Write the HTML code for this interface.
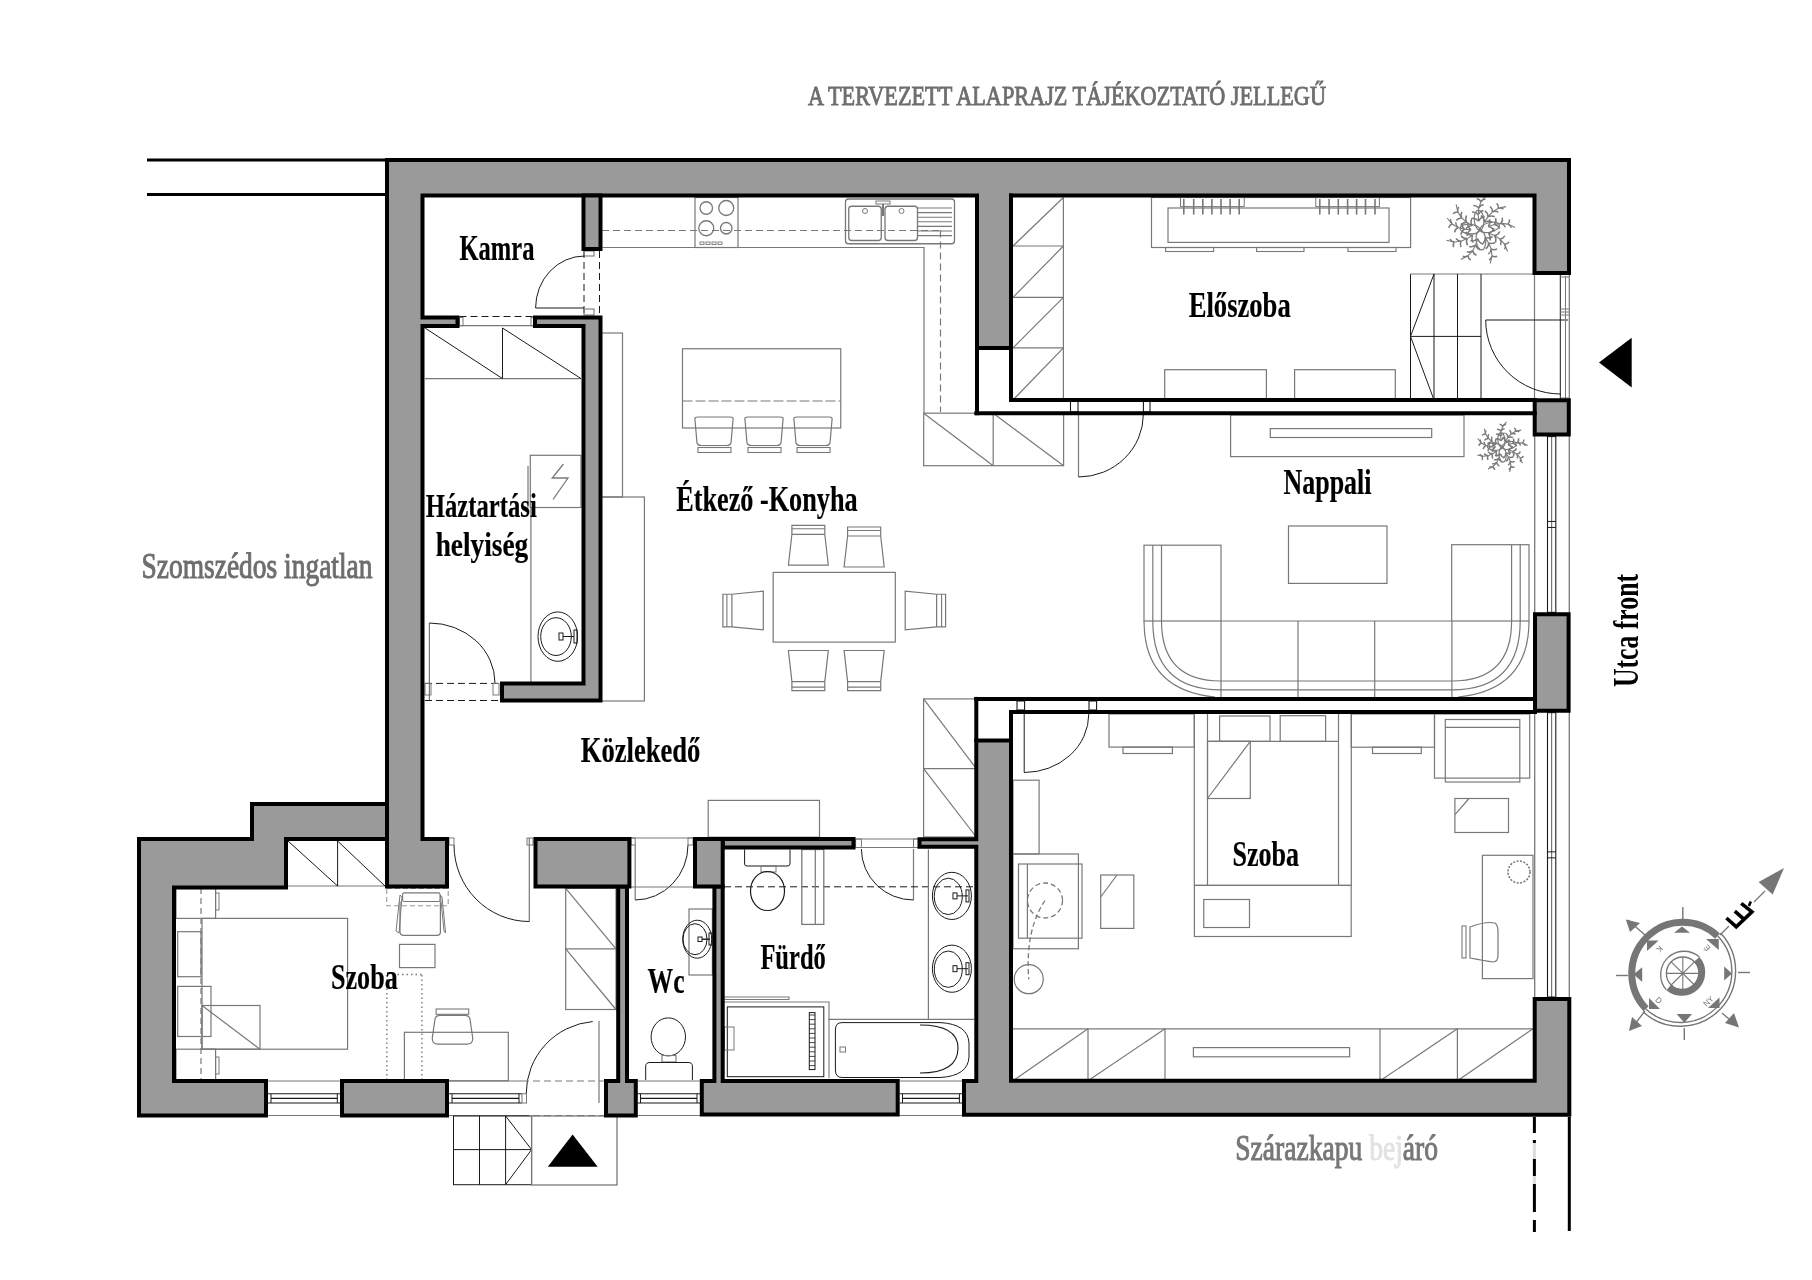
<!DOCTYPE html>
<html><head><meta charset="utf-8"><style>
html,body{margin:0;padding:0;background:#fff;width:1812px;height:1280px;overflow:hidden}
svg{display:block;will-change:transform}
</style></head><body>
<svg width="1812" height="1280" viewBox="0 0 1812 1280"><line x1="584" y1="251" x2="584" y2="315" stroke="#1a1a1a" stroke-width="1.0" stroke-dasharray="7,4"/>
<line x1="599.5" y1="251" x2="599.5" y2="315" stroke="#1a1a1a" stroke-width="1.0" stroke-dasharray="7,4"/>
<rect x="584" y="251" width="10" height="5" fill="none" stroke="#787878" stroke-width="1.1" />
<rect x="584" y="309" width="10" height="6" fill="none" stroke="#787878" stroke-width="1.1" />
<line x1="535.6" y1="308" x2="584" y2="308" stroke="#1a1a1a" stroke-width="1.1" />
<path d="M535.6,308 A49,52 0 0,1 584.5,256" fill="none" stroke="#1a1a1a" stroke-width="1.0" />
<line x1="459.5" y1="316.5" x2="535" y2="316.5" stroke="#1a1a1a" stroke-width="1.0" stroke-dasharray="7,4"/>
<line x1="459.5" y1="325.7" x2="535" y2="325.7" stroke="#787878" stroke-width="1.2" />
<rect x="459.5" y="317.5" width="3.5" height="8.199999999999989" fill="none" stroke="#787878" stroke-width="1" />
<rect x="531" y="317.5" width="4" height="8.199999999999989" fill="none" stroke="#787878" stroke-width="1" />
<line x1="425" y1="378.6" x2="581" y2="378.6" stroke="#787878" stroke-width="1.2" />
<line x1="502.5" y1="328" x2="502.5" y2="378.6" stroke="#1a1a1a" stroke-width="1.0" />
<line x1="425" y1="328" x2="502.5" y2="378.6" stroke="#1a1a1a" stroke-width="1.0" />
<line x1="502.5" y1="328" x2="581" y2="378.6" stroke="#1a1a1a" stroke-width="1.0" />
<rect x="530.3" y="455.3" width="50.700000000000045" height="52.19999999999999" fill="none" stroke="#787878" stroke-width="1.2" />
<line x1="528" y1="466" x2="528" y2="507.5" stroke="#787878" stroke-width="1.2" />
<line x1="530.9" y1="507.5" x2="530.9" y2="682" stroke="#787878" stroke-width="1.2" />
<path d="M563.4,464 L552.2,478 L568,478 L553,499.5" fill="none" stroke="#787878" stroke-width="1.3" />
<ellipse cx="557.8" cy="636.6" rx="19.8" ry="24.7" fill="none" stroke="#1a1a1a" stroke-width="1.0"/>
<ellipse cx="556" cy="636.6" rx="15.3" ry="18.9" fill="none" stroke="#1a1a1a" stroke-width="1.0"/>
<rect x="559" y="633" width="4" height="7" fill="none" stroke="#1a1a1a" stroke-width="1" />
<line x1="563" y1="636.5" x2="574" y2="636.5" stroke="#1a1a1a" stroke-width="1" />
<rect x="574" y="630" width="3" height="13" fill="none" stroke="#1a1a1a" stroke-width="1" />
<line x1="429.4" y1="623" x2="429.4" y2="700" stroke="#787878" stroke-width="1.2" />
<path d="M429.4,623 A65.6,60 0 0,1 495,683" fill="none" stroke="#1a1a1a" stroke-width="1.0" />
<line x1="425" y1="683.4" x2="502" y2="683.4" stroke="#1a1a1a" stroke-width="1.0" stroke-dasharray="7,4"/>
<line x1="425" y1="700.5" x2="502" y2="700.5" stroke="#1a1a1a" stroke-width="1.0" stroke-dasharray="7,4"/>
<rect x="425" y="683.4" width="6" height="11.600000000000023" fill="none" stroke="#787878" stroke-width="1" />
<rect x="493" y="683.4" width="6" height="11.600000000000023" fill="none" stroke="#787878" stroke-width="1" />
<path d="M602.5,247.5 H924 V413.2" fill="none" stroke="#787878" stroke-width="1.2" />
<line x1="602" y1="230.5" x2="940.5" y2="230.5" stroke="#787878" stroke-width="1.2" stroke-dasharray="7,4"/>
<line x1="940.5" y1="230.5" x2="940.5" y2="412" stroke="#787878" stroke-width="1.2" stroke-dasharray="7,4"/>
<rect x="695" y="197.5" width="43" height="50.0" fill="none" stroke="#787878" stroke-width="1.2" />
<circle cx="706.25" cy="208" r="6.25" fill="none" stroke="#787878" stroke-width="1.3" />
<circle cx="726.25" cy="208" r="7.5" fill="none" stroke="#787878" stroke-width="1.3" />
<circle cx="706.25" cy="228.25" r="7.5" fill="none" stroke="#787878" stroke-width="1.3" />
<circle cx="726.25" cy="228.25" r="5.75" fill="none" stroke="#787878" stroke-width="1.3" />
<rect x="700" y="242" width="4" height="2.5" fill="none" stroke="#787878" stroke-width="0.9" />
<rect x="706" y="242" width="4" height="2.5" fill="none" stroke="#787878" stroke-width="0.9" />
<rect x="712" y="242" width="4" height="2.5" fill="none" stroke="#787878" stroke-width="0.9" />
<rect x="718" y="242" width="4" height="2.5" fill="none" stroke="#787878" stroke-width="0.9" />
<rect x="845.5" y="199" width="109.0" height="44.75" fill="none" stroke="#787878" stroke-width="1.3" rx="3"/>
<rect x="848.75" y="206.25" width="32.5" height="34.25" fill="none" stroke="#787878" stroke-width="1.3" rx="3"/>
<rect x="885" y="206.25" width="32.5" height="34.25" fill="none" stroke="#787878" stroke-width="1.3" rx="3"/>
<line x1="918" y1="208.0" x2="952" y2="208.0" stroke="#787878" stroke-width="1.1" />
<line x1="918" y1="212.6" x2="952" y2="212.6" stroke="#787878" stroke-width="1.1" />
<line x1="918" y1="217.2" x2="952" y2="217.2" stroke="#787878" stroke-width="1.1" />
<line x1="918" y1="221.8" x2="952" y2="221.8" stroke="#787878" stroke-width="1.1" />
<line x1="918" y1="226.4" x2="952" y2="226.4" stroke="#787878" stroke-width="1.1" />
<line x1="918" y1="231.0" x2="952" y2="231.0" stroke="#787878" stroke-width="1.1" />
<line x1="918" y1="235.6" x2="952" y2="235.6" stroke="#787878" stroke-width="1.1" />
<rect x="876" y="201" width="14" height="3" fill="none" stroke="#787878" stroke-width="1" />
<line x1="883" y1="204" x2="883" y2="216" stroke="#787878" stroke-width="2" />
<circle cx="865" cy="211" r="2.5" fill="none" stroke="#787878" stroke-width="1" />
<circle cx="901.5" cy="211" r="2.5" fill="none" stroke="#787878" stroke-width="1" />
<rect x="682.5" y="348.75" width="158.25" height="79.25" fill="none" stroke="#787878" stroke-width="1.2" />
<line x1="682.5" y1="401" x2="840.75" y2="401" stroke="#787878" stroke-width="1.1" stroke-dasharray="10,3"/>
<path d="M695,420 Q694,417 698,417 H730 Q734,417 733,420 L731,443 Q730,445.5 727,445.5 H701 Q698,445.5 697,443 Z" fill="none" stroke="#787878" stroke-width="1.2" />
<rect x="698" y="447.5" width="33" height="5.0" fill="none" stroke="#787878" stroke-width="1.1" />
<path d="M745,420 Q744,417 748,417 H780 Q784,417 783,420 L781,443 Q780,445.5 777,445.5 H751 Q748,445.5 747,443 Z" fill="none" stroke="#787878" stroke-width="1.2" />
<rect x="748" y="447.5" width="33" height="5.0" fill="none" stroke="#787878" stroke-width="1.1" />
<path d="M794,420 Q793,417 797,417 H829 Q833,417 832,420 L830,443 Q829,445.5 826,445.5 H800 Q797,445.5 796,443 Z" fill="none" stroke="#787878" stroke-width="1.2" />
<rect x="797" y="447.5" width="33" height="5.0" fill="none" stroke="#787878" stroke-width="1.1" />
<rect x="601" y="333" width="21.5" height="164" fill="none" stroke="#787878" stroke-width="1.2" />
<rect x="601" y="497" width="43.39999999999998" height="204" fill="none" stroke="#787878" stroke-width="1.2" />
<rect x="923.7" y="413.2" width="139.89999999999986" height="52.5" fill="none" stroke="#787878" stroke-width="1.2" />
<line x1="993.2" y1="413.2" x2="993.2" y2="465.7" stroke="#787878" stroke-width="1.2" />
<line x1="923.7" y1="413.2" x2="993.2" y2="465.7" stroke="#787878" stroke-width="1.2" />
<line x1="993.2" y1="413.2" x2="1063.6" y2="465.7" stroke="#787878" stroke-width="1.2" />
<rect x="923.6" y="698.9" width="52.69999999999993" height="138.10000000000002" fill="none" stroke="#787878" stroke-width="1.2" />
<line x1="923.6" y1="768.6" x2="976.3" y2="768.6" stroke="#787878" stroke-width="1.2" />
<line x1="923.6" y1="698.9" x2="976.3" y2="768.6" stroke="#787878" stroke-width="1.2" />
<line x1="923.6" y1="768.6" x2="976.3" y2="837" stroke="#787878" stroke-width="1.2" />
<rect x="708.2" y="800.4" width="111.29999999999995" height="36.80000000000007" fill="none" stroke="#787878" stroke-width="1.2" />
<rect x="565.7" y="888.4" width="50.299999999999955" height="121.10000000000002" fill="none" stroke="#787878" stroke-width="1.2" />
<line x1="565.7" y1="948.9" x2="616" y2="948.9" stroke="#787878" stroke-width="1.2" />
<line x1="565.7" y1="888.4" x2="616" y2="948.9" stroke="#787878" stroke-width="1.2" />
<line x1="565.7" y1="948.9" x2="616" y2="1009.5" stroke="#787878" stroke-width="1.2" />
<line x1="529.3" y1="838" x2="529.3" y2="921.5" stroke="#787878" stroke-width="1.2" />
<path d="M454,845 A75.3,76.5 0 0,0 529.3,921.5" fill="none" stroke="#1a1a1a" stroke-width="1.0" />
<rect x="449" y="838" width="5" height="7" fill="none" stroke="#787878" stroke-width="1" />
<rect x="527" y="838" width="6" height="7" fill="none" stroke="#787878" stroke-width="1" />
<line x1="635.2" y1="845" x2="635.2" y2="900" stroke="#787878" stroke-width="1.2" />
<path d="M635.2,900 A53,55 0 0,0 688,845" fill="none" stroke="#1a1a1a" stroke-width="1.0" />
<line x1="631" y1="838" x2="693" y2="838" stroke="#787878" stroke-width="1" />
<line x1="631" y1="887" x2="693" y2="887" stroke="#787878" stroke-width="1" />
<rect x="631" y="838" width="4.2000000000000455" height="7" fill="none" stroke="#787878" stroke-width="1" />
<rect x="688" y="838" width="5" height="7" fill="none" stroke="#787878" stroke-width="1" />
<line x1="1063.4" y1="197.5" x2="1063.4" y2="400" stroke="#787878" stroke-width="1.2" />
<line x1="1013" y1="246" x2="1063.4" y2="246" stroke="#787878" stroke-width="1.2" />
<line x1="1013" y1="246" x2="1063.4" y2="197.5" stroke="#787878" stroke-width="1.2" />
<line x1="1013" y1="297.3" x2="1063.4" y2="297.3" stroke="#787878" stroke-width="1.2" />
<line x1="1013" y1="297.3" x2="1063.4" y2="246" stroke="#787878" stroke-width="1.2" />
<line x1="1013" y1="347.8" x2="1063.4" y2="347.8" stroke="#787878" stroke-width="1.2" />
<line x1="1013" y1="347.8" x2="1063.4" y2="297.3" stroke="#787878" stroke-width="1.2" />
<line x1="1013" y1="400" x2="1063.4" y2="400" stroke="#787878" stroke-width="1.2" />
<line x1="1013" y1="400" x2="1063.4" y2="347.8" stroke="#787878" stroke-width="1.2" />
<rect x="1151.5" y="197.5" width="259.0999999999999" height="50.0" fill="none" stroke="#787878" stroke-width="1.2" />
<rect x="1168" y="208" width="221" height="34.400000000000006" fill="none" stroke="#787878" stroke-width="1.2" />
<rect x="1180.5" y="197.5" width="63.700000000000045" height="9.099999999999994" fill="none" stroke="#787878" stroke-width="1" />
<rect x="1315.8" y="197.5" width="63.600000000000136" height="9.099999999999994" fill="none" stroke="#787878" stroke-width="1" />
<line x1="1183.8" y1="199" x2="1183.8" y2="214.6" stroke="#787878" stroke-width="1.6" />
<line x1="1193.7" y1="199" x2="1193.7" y2="214.6" stroke="#787878" stroke-width="1.6" />
<line x1="1202.8" y1="199" x2="1202.8" y2="214.6" stroke="#787878" stroke-width="1.6" />
<line x1="1211.9" y1="199" x2="1211.9" y2="214.6" stroke="#787878" stroke-width="1.6" />
<line x1="1221" y1="199" x2="1221" y2="214.6" stroke="#787878" stroke-width="1.6" />
<line x1="1230.1" y1="199" x2="1230.1" y2="214.6" stroke="#787878" stroke-width="1.6" />
<line x1="1239.2" y1="199" x2="1239.2" y2="214.6" stroke="#787878" stroke-width="1.6" />
<line x1="1319.8" y1="199" x2="1319.8" y2="214.6" stroke="#787878" stroke-width="1.6" />
<line x1="1329.1" y1="199" x2="1329.1" y2="214.6" stroke="#787878" stroke-width="1.6" />
<line x1="1338.3" y1="199" x2="1338.3" y2="214.6" stroke="#787878" stroke-width="1.6" />
<line x1="1347.6" y1="199" x2="1347.6" y2="214.6" stroke="#787878" stroke-width="1.6" />
<line x1="1356.6" y1="199" x2="1356.6" y2="214.6" stroke="#787878" stroke-width="1.6" />
<line x1="1365.5" y1="199" x2="1365.5" y2="214.6" stroke="#787878" stroke-width="1.6" />
<line x1="1375" y1="199" x2="1375" y2="214.6" stroke="#787878" stroke-width="1.6" />
<rect x="1165.6" y="247.5" width="48.0" height="4.0" fill="none" stroke="#787878" stroke-width="1.1" />
<rect x="1256.6" y="247.5" width="47.40000000000009" height="4.0" fill="none" stroke="#787878" stroke-width="1.1" />
<rect x="1348" y="247.5" width="48" height="4.0" fill="none" stroke="#787878" stroke-width="1.1" />
<rect x="1164.7" y="369.7" width="101.70000000000005" height="30.30000000000001" fill="none" stroke="#787878" stroke-width="1.2" />
<rect x="1294.6" y="369.7" width="100.70000000000005" height="30.30000000000001" fill="none" stroke="#787878" stroke-width="1.2" />
<line x1="1410.5" y1="274" x2="1410.5" y2="400" stroke="#1a1a1a" stroke-width="1.0" />
<line x1="1410.5" y1="274" x2="1534.5" y2="274" stroke="#787878" stroke-width="1.2" />
<line x1="1534.5" y1="274" x2="1534.5" y2="400" stroke="#787878" stroke-width="1.2" />
<line x1="1434" y1="274" x2="1434" y2="400" stroke="#1a1a1a" stroke-width="1.0" />
<line x1="1457.5" y1="274" x2="1457.5" y2="400" stroke="#1a1a1a" stroke-width="1.0" />
<line x1="1481" y1="274" x2="1481" y2="400" stroke="#1a1a1a" stroke-width="1.0" />
<line x1="1410.5" y1="336.4" x2="1481" y2="336.4" stroke="#1a1a1a" stroke-width="1.0" />
<line x1="1410.5" y1="336.4" x2="1434" y2="274" stroke="#1a1a1a" stroke-width="1.0" />
<line x1="1410.5" y1="336.4" x2="1434" y2="400" stroke="#1a1a1a" stroke-width="1.0" />
<line x1="1485.7" y1="320" x2="1568" y2="320" stroke="#1a1a1a" stroke-width="1.1" />
<path d="M1485.7,320 A75,74 0 0,0 1561,394" fill="none" stroke="#1a1a1a" stroke-width="1.0" />
<line x1="1560.3" y1="275" x2="1560.3" y2="400" stroke="#1a1a1a" stroke-width="1.0" />
<line x1="1565.5" y1="276" x2="1565.5" y2="399" stroke="#787878" stroke-width="1.0" />
<line x1="1569.3" y1="275" x2="1569.3" y2="400" stroke="#787878" stroke-width="1.2" />
<line x1="1560.3" y1="309" x2="1569" y2="309" stroke="#787878" stroke-width="1" />
<line x1="1560.3" y1="312" x2="1569" y2="312" stroke="#787878" stroke-width="1" />
<line x1="1560.3" y1="315" x2="1569" y2="315" stroke="#787878" stroke-width="1" />
<line x1="1560.3" y1="277" x2="1569" y2="277" stroke="#787878" stroke-width="1" />
<line x1="1560.3" y1="398" x2="1569" y2="398" stroke="#787878" stroke-width="1" />
<polygon points="1599,362.6 1631.7,337.8 1631.7,387.4" fill="#000"/>
<rect x="1070.5" y="401" width="7.5" height="11" fill="none" stroke="#1a1a1a" stroke-width="1.1" />
<rect x="1143.4" y="401" width="6.599999999999909" height="11" fill="none" stroke="#1a1a1a" stroke-width="1.1" />
<line x1="1078.5" y1="414" x2="1078.5" y2="477" stroke="#787878" stroke-width="1.2" />
<path d="M1078.5,477 A65,63 0 0,0 1143.4,414" fill="none" stroke="#1a1a1a" stroke-width="1.0" />
<rect x="1230.6" y="415" width="233.4000000000001" height="41.60000000000002" fill="none" stroke="#787878" stroke-width="1.2" />
<rect x="1270.3" y="428.6" width="161.4000000000001" height="8.899999999999977" fill="none" stroke="#787878" stroke-width="1.2" />
<rect x="1288.5" y="526" width="98.5" height="57.39999999999998" fill="none" stroke="#787878" stroke-width="1.2" />
<rect x="1144" y="545.2" width="77" height="75.79999999999995" fill="none" stroke="#787878" stroke-width="1.2" />
<line x1="1152.8" y1="545.2" x2="1152.8" y2="621" stroke="#787878" stroke-width="1.2" />
<line x1="1161.5" y1="545.2" x2="1161.5" y2="621" stroke="#787878" stroke-width="1.2" />
<rect x="1451.7" y="544.7" width="77.29999999999995" height="76.29999999999995" fill="none" stroke="#787878" stroke-width="1.2" />
<line x1="1511.6" y1="544.7" x2="1511.6" y2="621" stroke="#787878" stroke-width="1.2" />
<line x1="1520.2" y1="544.7" x2="1520.2" y2="621" stroke="#787878" stroke-width="1.2" />
<line x1="1221" y1="621" x2="1451.7" y2="621" stroke="#787878" stroke-width="1.2" />
<line x1="1221" y1="621" x2="1221" y2="697" stroke="#787878" stroke-width="1.2" />
<line x1="1298" y1="621" x2="1298" y2="697" stroke="#787878" stroke-width="1.2" />
<line x1="1374.7" y1="621" x2="1374.7" y2="697" stroke="#787878" stroke-width="1.2" />
<line x1="1451.9" y1="621" x2="1451.9" y2="697" stroke="#787878" stroke-width="1.2" />
<line x1="1221" y1="681" x2="1451.9" y2="681" stroke="#787878" stroke-width="1.2" />
<line x1="1221" y1="689.8" x2="1451.9" y2="689.8" stroke="#787878" stroke-width="1.2" />
<path d="M1144,621 Q1144,690 1215,697" fill="none" stroke="#787878" stroke-width="1.2" />
<path d="M1152.8,621 Q1152.8,689.8 1221,689.8" fill="none" stroke="#787878" stroke-width="1.2" />
<path d="M1161.5,621 Q1161.5,681 1221,681" fill="none" stroke="#787878" stroke-width="1.2" />
<path d="M1529,621 Q1529,690 1458,697" fill="none" stroke="#787878" stroke-width="1.2" />
<path d="M1520.2,621 Q1520.2,689.8 1451.9,689.8" fill="none" stroke="#787878" stroke-width="1.2" />
<path d="M1511.6,621 Q1511.6,681 1451.9,681" fill="none" stroke="#787878" stroke-width="1.2" />
<line x1="1534.7" y1="434.6" x2="1534.7" y2="614.3" stroke="#787878" stroke-width="1.3" />
<line x1="1569.3" y1="434.6" x2="1569.3" y2="614.3" stroke="#787878" stroke-width="1.3" />
<line x1="1547.5" y1="434.6" x2="1547.5" y2="614.3" stroke="#1a1a1a" stroke-width="1.1" />
<line x1="1551.6" y1="434.6" x2="1551.6" y2="614.3" stroke="#787878" stroke-width="1.2" />
<line x1="1555.8" y1="434.6" x2="1555.8" y2="614.3" stroke="#1a1a1a" stroke-width="1.1" />
<line x1="1547.5" y1="521.45" x2="1555.8" y2="521.45" stroke="#1a1a1a" stroke-width="1" />
<line x1="1547.5" y1="527.45" x2="1555.8" y2="527.45" stroke="#1a1a1a" stroke-width="1" />
<line x1="1547.5" y1="436.6" x2="1555.8" y2="436.6" stroke="#1a1a1a" stroke-width="1" />
<line x1="1547.5" y1="612.3" x2="1555.8" y2="612.3" stroke="#1a1a1a" stroke-width="1" />
<line x1="1534.7" y1="710.7" x2="1534.7" y2="999" stroke="#787878" stroke-width="1.3" />
<line x1="1569.3" y1="710.7" x2="1569.3" y2="999" stroke="#787878" stroke-width="1.3" />
<line x1="1547.5" y1="710.7" x2="1547.5" y2="999" stroke="#1a1a1a" stroke-width="1.1" />
<line x1="1551.6" y1="710.7" x2="1551.6" y2="999" stroke="#787878" stroke-width="1.2" />
<line x1="1555.8" y1="710.7" x2="1555.8" y2="999" stroke="#1a1a1a" stroke-width="1.1" />
<line x1="1547.5" y1="851.85" x2="1555.8" y2="851.85" stroke="#1a1a1a" stroke-width="1" />
<line x1="1547.5" y1="857.85" x2="1555.8" y2="857.85" stroke="#1a1a1a" stroke-width="1" />
<line x1="1547.5" y1="712.7" x2="1555.8" y2="712.7" stroke="#1a1a1a" stroke-width="1" />
<line x1="1547.5" y1="997" x2="1555.8" y2="997" stroke="#1a1a1a" stroke-width="1" />
<rect x="1017" y="701" width="7.599999999999909" height="9" fill="none" stroke="#1a1a1a" stroke-width="1.1" />
<rect x="1089" y="701" width="7.599999999999909" height="9" fill="none" stroke="#1a1a1a" stroke-width="1.1" />
<line x1="1024.2" y1="714" x2="1024.2" y2="772.5" stroke="#1a1a1a" stroke-width="1.0" />
<path d="M1024.2,772.5 A64.5,58.5 0 0,0 1088.8,714" fill="none" stroke="#1a1a1a" stroke-width="1.0" />
<rect x="1109" y="714" width="85.29999999999995" height="33.10000000000002" fill="none" stroke="#787878" stroke-width="1.2" />
<rect x="1123" y="747.1" width="49.40000000000009" height="6.399999999999977" fill="none" stroke="#787878" stroke-width="1.2" />
<line x1="1194.3" y1="714" x2="1194.3" y2="885.4" stroke="#787878" stroke-width="1.2" />
<line x1="1207.5" y1="714" x2="1207.5" y2="885.4" stroke="#787878" stroke-width="1.2" />
<line x1="1338.5" y1="714" x2="1338.5" y2="885.4" stroke="#787878" stroke-width="1.2" />
<line x1="1351.3" y1="714" x2="1351.3" y2="885.4" stroke="#787878" stroke-width="1.2" />
<line x1="1207.5" y1="741.4" x2="1338.5" y2="741.4" stroke="#787878" stroke-width="1.2" />
<line x1="1194.3" y1="885.4" x2="1351.3" y2="885.4" stroke="#787878" stroke-width="1.2" />
<rect x="1219.6" y="716" width="50.40000000000009" height="25.399999999999977" fill="none" stroke="#787878" stroke-width="1.2" />
<rect x="1280.2" y="715.7" width="45.399999999999864" height="25.699999999999932" fill="none" stroke="#787878" stroke-width="1.2" />
<rect x="1207.5" y="741.3" width="42.799999999999955" height="57.200000000000045" fill="none" stroke="#787878" stroke-width="1.2" />
<line x1="1207.5" y1="798.5" x2="1250.3" y2="741.3" stroke="#787878" stroke-width="1.2" />
<rect x="1351.3" y="714" width="83.20000000000005" height="33.200000000000045" fill="none" stroke="#787878" stroke-width="1.2" />
<rect x="1372.5" y="747.2" width="48.799999999999955" height="6.2999999999999545" fill="none" stroke="#787878" stroke-width="1.2" />
<rect x="1434.5" y="714" width="95.20000000000005" height="64.10000000000002" fill="none" stroke="#787878" stroke-width="1.2" />
<rect x="1445.3" y="719.5" width="74.5" height="62.5" fill="none" stroke="#787878" stroke-width="1.2" />
<line x1="1445.3" y1="727.3" x2="1519.8" y2="727.3" stroke="#787878" stroke-width="1.2" />
<rect x="1454.9" y="798.5" width="53.59999999999991" height="34.0" fill="none" stroke="#787878" stroke-width="1.2" />
<line x1="1455" y1="814.6" x2="1469" y2="798.5" stroke="#787878" stroke-width="1.2" />
<rect x="1482.4" y="855.3" width="50.59999999999991" height="123.30000000000007" fill="none" stroke="#787878" stroke-width="1.2" />
<circle cx="1519" cy="872" r="11" fill="none" stroke="#787878" stroke-width="1.6" stroke-dasharray="2,1.5"/>
<path d="M1470,927 Q1486,921 1495,923 Q1498,925 1498,932 V955 Q1498,962 1493,962 Q1486,961 1470,958 Z" fill="none" stroke="#787878" stroke-width="1.2" />
<rect x="1462" y="926" width="4" height="32" fill="none" stroke="#787878" stroke-width="1.1" />
<rect x="1013" y="780.2" width="26.09999999999991" height="73.79999999999995" fill="none" stroke="#787878" stroke-width="1.2" />
<rect x="1013" y="854" width="65.40000000000009" height="94.75" fill="none" stroke="#787878" stroke-width="1.2" />
<rect x="1018.5" y="864" width="63.5" height="74.20000000000005" fill="none" stroke="#787878" stroke-width="1.2" />
<line x1="1027.4" y1="864" x2="1027.4" y2="938.2" stroke="#787878" stroke-width="1.2" />
<rect x="1100.7" y="875" width="33.09999999999991" height="53.39999999999998" fill="none" stroke="#787878" stroke-width="1.2" />
<line x1="1100.7" y1="897" x2="1117" y2="875" stroke="#787878" stroke-width="1.2" />
<circle cx="1045" cy="900.5" r="17.5" fill="none" stroke="#787878" stroke-width="1.3" stroke-dasharray="5,3"/>
<path d="M1045,900.5 Q1025,930 1028.75,979.2" fill="none" stroke="#787878" stroke-width="1.3" stroke-dasharray="5,3"/>
<circle cx="1028.75" cy="979.2" r="14.5" fill="none" stroke="#787878" stroke-width="1.2" />
<rect x="1194.4" y="885.4" width="156.79999999999995" height="51.10000000000002" fill="none" stroke="#787878" stroke-width="1.2" />
<rect x="1203.75" y="899.5" width="45.75" height="28.0" fill="none" stroke="#787878" stroke-width="1.2" />
<line x1="1013" y1="1028.8" x2="1533" y2="1028.8" stroke="#787878" stroke-width="1.2" />
<line x1="1088" y1="1028.8" x2="1088" y2="1080.8" stroke="#787878" stroke-width="1.2" />
<line x1="1165" y1="1028.8" x2="1165" y2="1080.8" stroke="#787878" stroke-width="1.2" />
<line x1="1380" y1="1028.8" x2="1380" y2="1080.8" stroke="#787878" stroke-width="1.2" />
<line x1="1457.4" y1="1028.8" x2="1457.4" y2="1080.8" stroke="#787878" stroke-width="1.2" />
<line x1="1013" y1="1080.8" x2="1088" y2="1028.8" stroke="#787878" stroke-width="1.2" />
<line x1="1088" y1="1080.8" x2="1165" y2="1028.8" stroke="#787878" stroke-width="1.2" />
<line x1="1380" y1="1080.8" x2="1457.4" y2="1028.8" stroke="#787878" stroke-width="1.2" />
<line x1="1457.4" y1="1080.8" x2="1533" y2="1028.8" stroke="#787878" stroke-width="1.2" />
<rect x="1193.4" y="1047.6" width="156.19999999999982" height="9.200000000000045" fill="none" stroke="#787878" stroke-width="1.2" />
<line x1="288" y1="886" x2="385" y2="886" stroke="#787878" stroke-width="1.2" />
<line x1="337.6" y1="841" x2="337.6" y2="886" stroke="#1a1a1a" stroke-width="1.0" />
<line x1="288" y1="841" x2="337.6" y2="886" stroke="#1a1a1a" stroke-width="1.0" />
<line x1="337.6" y1="841" x2="385" y2="886" stroke="#1a1a1a" stroke-width="1.0" />
<rect x="202" y="918.4" width="145.60000000000002" height="130.80000000000007" fill="none" stroke="#787878" stroke-width="1.2" />
<rect x="177.7" y="931.7" width="23.30000000000001" height="45.0" fill="none" stroke="#787878" stroke-width="1.2" />
<rect x="177.7" y="986.4" width="33.30000000000001" height="50.10000000000002" fill="none" stroke="#787878" stroke-width="1.2" />
<rect x="202" y="1005.5" width="58" height="43.700000000000045" fill="none" stroke="#787878" stroke-width="1.2" />
<line x1="202" y1="1005.5" x2="260" y2="1049.2" stroke="#787878" stroke-width="1.2" />
<line x1="201" y1="888" x2="201" y2="1080" stroke="#787878" stroke-width="1.2" stroke-dasharray="6,4"/>
<rect x="176" y="888.5" width="39.599999999999994" height="29.899999999999977" fill="none" stroke="#787878" stroke-width="1.2" />
<rect x="215.6" y="893" width="3.4000000000000057" height="17" fill="none" stroke="#787878" stroke-width="1" />
<rect x="176" y="1049.2" width="39.599999999999994" height="30.799999999999955" fill="none" stroke="#787878" stroke-width="1.2" />
<rect x="215.6" y="1057" width="3.4000000000000057" height="17" fill="none" stroke="#787878" stroke-width="1" />
<rect x="386.75" y="888.5" width="61.44999999999999" height="17.299999999999955" fill="none" stroke="#999" stroke-width="1.1" stroke-dasharray="5,3"/>
<rect x="402.6" y="892.9" width="37.39999999999998" height="8.600000000000023" fill="none" stroke="#787878" stroke-width="1.1" rx="1.5"/>
<path d="M400,901.5 V932 Q400,935.4 404,935.4 H437 Q440.4,935.4 440.4,932 V901.5" fill="none" stroke="#787878" stroke-width="1.2" />
<path d="M400,895 L396,931 L399,933 L402,897 Z" fill="none" stroke="#787878" stroke-width="1" />
<path d="M440.4,895 L444,931 L445.6,933 L442,897 Z" fill="none" stroke="#787878" stroke-width="1" />
<line x1="397.5" y1="974.5" x2="421.5" y2="974.5" stroke="#787878" stroke-width="1.4" stroke-dasharray="1.5,3"/>
<rect x="399.5" y="944.4" width="35.5" height="23.200000000000045" fill="none" stroke="#787878" stroke-width="1.2" />
<line x1="386.8" y1="975" x2="386.8" y2="1079" stroke="#787878" stroke-width="1.4" stroke-dasharray="1.5,3"/>
<line x1="421.9" y1="975" x2="421.9" y2="1079" stroke="#787878" stroke-width="1.4" stroke-dasharray="1.5,3"/>
<rect x="404.4" y="1032.3" width="103.90000000000003" height="48.5" fill="none" stroke="#787878" stroke-width="1.2" />
<path d="M440,1015.4 H465 Q469,1015.4 470,1019 L472.7,1038 Q473,1044.2 467,1044.2 H438 Q432,1044.2 432.3,1038 L435,1019 Q436,1015.4 440,1015.4 Z" fill="none" stroke="#787878" stroke-width="1.2" />
<rect x="436.1" y="1009" width="32.599999999999966" height="5.2999999999999545" fill="none" stroke="#787878" stroke-width="1.1" />
<line x1="268" y1="1081" x2="340.3" y2="1081" stroke="#787878" stroke-width="1.1" />
<line x1="268" y1="1115.5" x2="340.3" y2="1115.5" stroke="#787878" stroke-width="1.1" />
<line x1="268" y1="1093.8" x2="340.3" y2="1093.8" stroke="#1a1a1a" stroke-width="1.1" />
<line x1="271" y1="1098.4" x2="337.3" y2="1098.4" stroke="#1a1a1a" stroke-width="1.1" />
<line x1="268" y1="1103" x2="340.3" y2="1103" stroke="#1a1a1a" stroke-width="1.1" />
<line x1="271" y1="1093.8" x2="271" y2="1103" stroke="#1a1a1a" stroke-width="1" />
<line x1="337.3" y1="1093.8" x2="337.3" y2="1103" stroke="#1a1a1a" stroke-width="1" />
<line x1="449" y1="1081" x2="522" y2="1081" stroke="#787878" stroke-width="1.1" />
<line x1="449" y1="1115.5" x2="522" y2="1115.5" stroke="#787878" stroke-width="1.1" />
<line x1="449" y1="1093.8" x2="522" y2="1093.8" stroke="#1a1a1a" stroke-width="1.1" />
<line x1="452" y1="1098.4" x2="519" y2="1098.4" stroke="#1a1a1a" stroke-width="1.1" />
<line x1="449" y1="1103" x2="522" y2="1103" stroke="#1a1a1a" stroke-width="1.1" />
<line x1="452" y1="1093.8" x2="452" y2="1103" stroke="#1a1a1a" stroke-width="1" />
<line x1="519" y1="1093.8" x2="519" y2="1103" stroke="#1a1a1a" stroke-width="1" />
<line x1="637.5" y1="1081" x2="700" y2="1081" stroke="#787878" stroke-width="1.1" />
<line x1="637.5" y1="1115.5" x2="700" y2="1115.5" stroke="#787878" stroke-width="1.1" />
<line x1="637.5" y1="1093.8" x2="700" y2="1093.8" stroke="#1a1a1a" stroke-width="1.1" />
<line x1="640.5" y1="1098.4" x2="697" y2="1098.4" stroke="#1a1a1a" stroke-width="1.1" />
<line x1="637.5" y1="1103" x2="700" y2="1103" stroke="#1a1a1a" stroke-width="1.1" />
<line x1="640.5" y1="1093.8" x2="640.5" y2="1103" stroke="#1a1a1a" stroke-width="1" />
<line x1="697" y1="1093.8" x2="697" y2="1103" stroke="#1a1a1a" stroke-width="1" />
<line x1="899.5" y1="1081" x2="962.4" y2="1081" stroke="#787878" stroke-width="1.1" />
<line x1="899.5" y1="1115.5" x2="962.4" y2="1115.5" stroke="#787878" stroke-width="1.1" />
<line x1="899.5" y1="1093.8" x2="962.4" y2="1093.8" stroke="#1a1a1a" stroke-width="1.1" />
<line x1="902.5" y1="1098.4" x2="959.4" y2="1098.4" stroke="#1a1a1a" stroke-width="1.1" />
<line x1="899.5" y1="1103" x2="962.4" y2="1103" stroke="#1a1a1a" stroke-width="1.1" />
<line x1="902.5" y1="1093.8" x2="902.5" y2="1103" stroke="#1a1a1a" stroke-width="1" />
<line x1="959.4" y1="1093.8" x2="959.4" y2="1103" stroke="#1a1a1a" stroke-width="1" />
<line x1="599" y1="1021" x2="599" y2="1103" stroke="#787878" stroke-width="1.2" />
<path d="M592.7,1021.5 A73,72.5 0 0,0 526.2,1094" fill="none" stroke="#1a1a1a" stroke-width="1.0" />
<line x1="522" y1="1081" x2="604" y2="1081" stroke="#787878" stroke-width="1.1" stroke-dasharray="7,4"/>
<line x1="522" y1="1115.5" x2="604" y2="1115.5" stroke="#787878" stroke-width="1.1" stroke-dasharray="7,4"/>
<rect x="522" y="1093.8" width="4.5" height="9.200000000000045" fill="none" stroke="#787878" stroke-width="1" />
<rect x="453.5" y="1116" width="78.10000000000002" height="68.70000000000005" fill="none" stroke="#1a1a1a" stroke-width="1.0" />
<line x1="479.5" y1="1116" x2="479.5" y2="1184.7" stroke="#1a1a1a" stroke-width="1.0" />
<line x1="505.6" y1="1116" x2="505.6" y2="1184.7" stroke="#1a1a1a" stroke-width="1.0" />
<line x1="453.5" y1="1149.6" x2="531.6" y2="1149.6" stroke="#1a1a1a" stroke-width="1.0" />
<path d="M505.6,1116 L531.6,1149.6 L505.6,1184.7" fill="none" stroke="#1a1a1a" stroke-width="1.0" />
<rect x="531.6" y="1116" width="85.39999999999998" height="69" fill="none" stroke="#787878" stroke-width="1.3" />
<polygon points="547.8,1166.7 597.7,1166.7 572.6,1134.4" fill="#000"/>
<rect x="689" y="909" width="23.399999999999977" height="66" fill="none" stroke="#787878" stroke-width="1.2" />
<ellipse cx="697.2" cy="939.2" rx="14.5" ry="19" fill="none" stroke="#1a1a1a" stroke-width="1.0"/>
<ellipse cx="695" cy="939.2" rx="12" ry="15.5" fill="none" stroke="#1a1a1a" stroke-width="1.0"/>
<rect x="698" y="937" width="4" height="4.5" fill="none" stroke="#1a1a1a" stroke-width="1" />
<line x1="702" y1="939.2" x2="710" y2="939.2" stroke="#1a1a1a" stroke-width="1.4" />
<rect x="709" y="933" width="3" height="12" fill="none" stroke="#1a1a1a" stroke-width="1" />
<ellipse cx="668.3" cy="1036.9" rx="17.2" ry="19" fill="none" stroke="#1a1a1a" stroke-width="1.0"/>
<rect x="662" y="1055.5" width="14" height="6.5" fill="none" stroke="#787878" stroke-width="1.1" />
<path d="M645.7,1080 V1066 Q645.7,1062.5 650,1062.5 H688 Q692.4,1062.5 692.4,1066 V1080" fill="none" stroke="#1a1a1a" stroke-width="1.0" />
<line x1="913.5" y1="849" x2="913.5" y2="900" stroke="#787878" stroke-width="1.2" />
<path d="M861.4,849 A52.1,51 0 0,0 913.5,900" fill="none" stroke="#1a1a1a" stroke-width="1.0" />
<rect x="855.6" y="839" width="5.7999999999999545" height="8.5" fill="none" stroke="#787878" stroke-width="1" />
<rect x="913.5" y="839" width="6.0" height="8.5" fill="none" stroke="#787878" stroke-width="1" />
<line x1="855.6" y1="839" x2="919.5" y2="839" stroke="#787878" stroke-width="1" />
<line x1="855.6" y1="847.5" x2="919.5" y2="847.5" stroke="#787878" stroke-width="1" />
<line x1="724" y1="886.8" x2="974" y2="886.8" stroke="#1a1a1a" stroke-width="1.0" stroke-dasharray="7,4"/>
<path d="M744.6,849.5 V864 Q744.6,866 747,866 H787 Q790,866 790,864 V849.5" fill="none" stroke="#1a1a1a" stroke-width="1.0" />
<rect x="761" y="866" width="15" height="6" fill="none" stroke="#787878" stroke-width="1" />
<ellipse cx="767.5" cy="891" rx="17" ry="19.5" fill="none" stroke="#1a1a1a" stroke-width="1.2"/>
<rect x="801.8" y="849.5" width="22.0" height="74.89999999999998" fill="none" stroke="#787878" stroke-width="1.3" />
<line x1="815.3" y1="849.5" x2="815.3" y2="924.4" stroke="#787878" stroke-width="1.2" />
<line x1="928.4" y1="849.5" x2="928.4" y2="1019.3" stroke="#787878" stroke-width="1.2" />
<ellipse cx="951.9" cy="895.9" rx="19.5" ry="23.6" fill="none" stroke="#1a1a1a" stroke-width="1.0"/>
<ellipse cx="948.3" cy="896.4" rx="14" ry="18.2" fill="none" stroke="#1a1a1a" stroke-width="1.0"/>
<rect x="953" y="892.9" width="4" height="6.0" fill="none" stroke="#1a1a1a" stroke-width="1" />
<line x1="957" y1="895.9" x2="968" y2="895.9" stroke="#1a1a1a" stroke-width="1" />
<rect x="966" y="889.9" width="3" height="12.0" fill="none" stroke="#1a1a1a" stroke-width="1" />
<ellipse cx="951.9" cy="968.7" rx="19.5" ry="23.6" fill="none" stroke="#1a1a1a" stroke-width="1.0"/>
<ellipse cx="948.3" cy="969.2" rx="14" ry="18.2" fill="none" stroke="#1a1a1a" stroke-width="1.0"/>
<rect x="953" y="965.7" width="4" height="6.0" fill="none" stroke="#1a1a1a" stroke-width="1" />
<line x1="957" y1="968.7" x2="968" y2="968.7" stroke="#1a1a1a" stroke-width="1" />
<rect x="966" y="962.7" width="3" height="12.0" fill="none" stroke="#1a1a1a" stroke-width="1" />
<rect x="727.3" y="1006.9" width="96.5" height="69.80000000000007" fill="none" stroke="#1a1a1a" stroke-width="1.0" />
<path d="M724.5,997 H789 V999.5 H724.5" fill="none" stroke="#787878" stroke-width="1.1" />
<path d="M724.5,1002 H829 V1078" fill="none" stroke="#787878" stroke-width="1.1" />
<rect x="809.3" y="1012.6" width="5.7000000000000455" height="56.999999999999886" fill="none" stroke="#1a1a1a" stroke-width="1" />
<line x1="809.3" y1="1015.0" x2="815" y2="1015.0" stroke="#1a1a1a" stroke-width="0.8" />
<line x1="809.3" y1="1019.6" x2="815" y2="1019.6" stroke="#1a1a1a" stroke-width="0.8" />
<line x1="809.3" y1="1024.2" x2="815" y2="1024.2" stroke="#1a1a1a" stroke-width="0.8" />
<line x1="809.3" y1="1028.8" x2="815" y2="1028.8" stroke="#1a1a1a" stroke-width="0.8" />
<line x1="809.3" y1="1033.4" x2="815" y2="1033.4" stroke="#1a1a1a" stroke-width="0.8" />
<line x1="809.3" y1="1038.0" x2="815" y2="1038.0" stroke="#1a1a1a" stroke-width="0.8" />
<line x1="809.3" y1="1042.6" x2="815" y2="1042.6" stroke="#1a1a1a" stroke-width="0.8" />
<line x1="809.3" y1="1047.2" x2="815" y2="1047.2" stroke="#1a1a1a" stroke-width="0.8" />
<line x1="809.3" y1="1051.8" x2="815" y2="1051.8" stroke="#1a1a1a" stroke-width="0.8" />
<line x1="809.3" y1="1056.4" x2="815" y2="1056.4" stroke="#1a1a1a" stroke-width="0.8" />
<line x1="809.3" y1="1061.0" x2="815" y2="1061.0" stroke="#1a1a1a" stroke-width="0.8" />
<line x1="809.3" y1="1065.6" x2="815" y2="1065.6" stroke="#1a1a1a" stroke-width="0.8" />
<rect x="724.5" y="1027" width="9.5" height="23" fill="none" stroke="#787878" stroke-width="1" />
<line x1="828.3" y1="1019.3" x2="974" y2="1019.3" stroke="#787878" stroke-width="1.2" />
<path d="M842,1022.6 H940 Q968,1024 969,1043 V1057 Q968,1076 940,1077.5 H842 Q835.4,1077.5 835.4,1070 V1030 Q835.4,1022.6 842,1022.6 Z" fill="none" stroke="#1a1a1a" stroke-width="1.0" />
<path d="M920,1025 Q958,1025 958,1048 Q958,1073 920,1073" fill="none" stroke="#1a1a1a" stroke-width="1.1" />
<rect x="840" y="1047" width="5.5" height="5" fill="none" stroke="#787878" stroke-width="1" />
<line x1="147" y1="160" x2="387" y2="160" stroke="#000" stroke-width="3" />
<line x1="147" y1="194.5" x2="387" y2="194.5" stroke="#000" stroke-width="3" />
<line x1="1569.3" y1="1117" x2="1569.3" y2="1231" stroke="#000" stroke-width="3" />
<line x1="1534.4" y1="1143" x2="1534.4" y2="1159" stroke="#ddd" stroke-width="3" />
<line x1="1534.4" y1="1176" x2="1534.4" y2="1184" stroke="#ddd" stroke-width="3" />
<path d="M1534.4,1117 V1133 M1534.4,1140 V1143 M1534.4,1159 V1176 M1534.4,1184 V1212 M1534.4,1220 V1232" fill="none" stroke="#000" stroke-width="3" />
<rect x="773.2" y="572.4" width="122.09999999999991" height="69.70000000000005" fill="none" stroke="#787878" stroke-width="1.2" />
<path d="M791.9,534.3 V525.3 H824.8 V534.3 L828.3,565.2 H788.4 Z" fill="none" stroke="#787878" stroke-width="1.2" />
<line x1="791.9" y1="528.8" x2="824.8" y2="528.8" stroke="#787878" stroke-width="1.1" />
<line x1="791.9" y1="534.3" x2="824.8" y2="534.3" stroke="#787878" stroke-width="1.2" />
<path d="M847.6,536 V527 H880.7 V536 L884.2,567 H844.1 Z" fill="none" stroke="#787878" stroke-width="1.2" />
<line x1="847.6" y1="530.5" x2="880.7" y2="530.5" stroke="#787878" stroke-width="1.1" />
<line x1="847.6" y1="536" x2="880.7" y2="536" stroke="#787878" stroke-width="1.2" />
<path d="M791.9,681.6 V690.6 H824.8 V681.6 L828.3,650.5 H788.4 Z" fill="none" stroke="#787878" stroke-width="1.2" />
<line x1="791.9" y1="687.1" x2="824.8" y2="687.1" stroke="#787878" stroke-width="1.1" />
<line x1="791.9" y1="681.6" x2="824.8" y2="681.6" stroke="#787878" stroke-width="1.2" />
<path d="M847.6,681.6 V690.6 H880.7 V681.6 L884.2,650.5 H844.1 Z" fill="none" stroke="#787878" stroke-width="1.2" />
<line x1="847.6" y1="687.1" x2="880.7" y2="687.1" stroke="#787878" stroke-width="1.1" />
<line x1="847.6" y1="681.6" x2="880.7" y2="681.6" stroke="#787878" stroke-width="1.2" />
<path d="M731.9,594.25 H722.9 V626.9 H731.9 L763.3,629.9 V591.25 Z" fill="none" stroke="#787878" stroke-width="1.2" />
<line x1="726.9" y1="594.25" x2="726.9" y2="626.9" stroke="#787878" stroke-width="1.1" />
<line x1="731.9" y1="594.25" x2="731.9" y2="626.9" stroke="#787878" stroke-width="1.2" />
<path d="M936.6,594.25 H945.6 V626.9 H936.6 L905.2,629.9 V591.25 Z" fill="none" stroke="#787878" stroke-width="1.2" />
<line x1="941.6" y1="594.25" x2="941.6" y2="626.9" stroke="#787878" stroke-width="1.1" />
<line x1="936.6" y1="594.25" x2="936.6" y2="626.9" stroke="#787878" stroke-width="1.2" />
<g><ellipse cx="1479.1" cy="220.0" rx="10.0" ry="4.8" transform="rotate(-95 1479.1 220.0)" fill="none" stroke="#7a7a7a" stroke-width="1.2"/><ellipse cx="1489.7" cy="227.4" rx="10.0" ry="4.8" transform="rotate(-15 1489.7 227.4)" fill="none" stroke="#7a7a7a" stroke-width="1.2"/><ellipse cx="1480.9" cy="240.0" rx="10.0" ry="4.8" transform="rotate(85 1480.9 240.0)" fill="none" stroke="#7a7a7a" stroke-width="1.2"/><ellipse cx="1470.0" cy="229.1" rx="10.0" ry="4.8" transform="rotate(185 1470.0 229.1)" fill="none" stroke="#7a7a7a" stroke-width="1.2"/><path d="M1472.1,225.6 L1466.6,222.2 L1461.7,217.9 L1457.9,212.0 L1456.1,204.4" fill="none" stroke="#7a7a7a" stroke-width="1.1"/><path d="M1472.1,225.6 Q1467.6,226.0 1465.7,229.5" fill="none" stroke="#7a7a7a" stroke-width="1.5"/><path d="M1472.1,225.6 Q1470.1,221.6 1472.0,218.1" fill="none" stroke="#7a7a7a" stroke-width="1.5"/><path d="M1466.6,222.2 Q1462.6,222.5 1460.8,225.6" fill="none" stroke="#7a7a7a" stroke-width="1.5"/><path d="M1466.6,222.2 Q1464.9,218.6 1466.6,215.5" fill="none" stroke="#7a7a7a" stroke-width="1.5"/><path d="M1461.7,217.9 Q1458.1,217.9 1456.4,220.5" fill="none" stroke="#7a7a7a" stroke-width="1.5"/><path d="M1461.7,217.9 Q1460.3,214.6 1462.0,212.0" fill="none" stroke="#7a7a7a" stroke-width="1.5"/><path d="M1457.9,212.0 Q1454.8,211.8 1453.1,213.8" fill="none" stroke="#7a7a7a" stroke-width="1.5"/><path d="M1457.9,212.0 Q1457.0,209.1 1458.7,207.0" fill="none" stroke="#7a7a7a" stroke-width="1.5"/><path d="M1478.7,221.1 L1478.1,214.6 L1478.7,208.0 L1481.1,201.5 L1486.1,195.5" fill="none" stroke="#7a7a7a" stroke-width="1.1"/><path d="M1478.7,221.1 Q1475.7,217.8 1471.8,218.3" fill="none" stroke="#7a7a7a" stroke-width="1.5"/><path d="M1478.7,221.1 Q1480.7,217.1 1484.7,216.5" fill="none" stroke="#7a7a7a" stroke-width="1.5"/><path d="M1478.1,214.6 Q1475.5,211.6 1472.0,212.0" fill="none" stroke="#7a7a7a" stroke-width="1.5"/><path d="M1478.1,214.6 Q1480.0,211.0 1483.5,210.6" fill="none" stroke="#7a7a7a" stroke-width="1.5"/><path d="M1478.7,208.0 Q1476.5,205.2 1473.4,205.4" fill="none" stroke="#7a7a7a" stroke-width="1.5"/><path d="M1478.7,208.0 Q1480.5,205.0 1483.6,204.8" fill="none" stroke="#7a7a7a" stroke-width="1.5"/><path d="M1481.1,201.5 Q1479.4,198.9 1476.7,198.8" fill="none" stroke="#7a7a7a" stroke-width="1.5"/><path d="M1481.1,201.5 Q1482.9,199.1 1485.6,199.1" fill="none" stroke="#7a7a7a" stroke-width="1.5"/><path d="M1484.5,222.2 L1488.0,216.7 L1492.5,211.9 L1498.4,208.2 L1506.0,206.6" fill="none" stroke="#7a7a7a" stroke-width="1.1"/><path d="M1484.5,222.2 Q1484.2,217.7 1480.8,215.7" fill="none" stroke="#7a7a7a" stroke-width="1.5"/><path d="M1484.5,222.2 Q1488.6,220.2 1492.0,222.2" fill="none" stroke="#7a7a7a" stroke-width="1.5"/><path d="M1488.0,216.7 Q1487.8,212.7 1484.8,210.9" fill="none" stroke="#7a7a7a" stroke-width="1.5"/><path d="M1488.0,216.7 Q1491.7,215.1 1494.7,216.9" fill="none" stroke="#7a7a7a" stroke-width="1.5"/><path d="M1492.5,211.9 Q1492.5,208.3 1489.9,206.5" fill="none" stroke="#7a7a7a" stroke-width="1.5"/><path d="M1492.5,211.9 Q1495.8,210.6 1498.3,212.3" fill="none" stroke="#7a7a7a" stroke-width="1.5"/><path d="M1498.4,208.2 Q1498.7,205.2 1496.6,203.4" fill="none" stroke="#7a7a7a" stroke-width="1.5"/><path d="M1498.4,208.2 Q1501.3,207.4 1503.4,209.1" fill="none" stroke="#7a7a7a" stroke-width="1.5"/><path d="M1488.3,226.6 L1494.5,224.5 L1501.0,223.4 L1507.9,224.1 L1514.9,227.6" fill="none" stroke="#7a7a7a" stroke-width="1.1"/><path d="M1488.3,226.6 Q1490.8,222.9 1489.4,219.2" fill="none" stroke="#7a7a7a" stroke-width="1.5"/><path d="M1488.3,226.6 Q1492.7,227.6 1494.3,231.2" fill="none" stroke="#7a7a7a" stroke-width="1.5"/><path d="M1494.5,224.5 Q1496.8,221.2 1495.5,217.9" fill="none" stroke="#7a7a7a" stroke-width="1.5"/><path d="M1494.5,224.5 Q1498.4,225.4 1499.7,228.7" fill="none" stroke="#7a7a7a" stroke-width="1.5"/><path d="M1501.0,223.4 Q1503.2,220.6 1502.3,217.6" fill="none" stroke="#7a7a7a" stroke-width="1.5"/><path d="M1501.0,223.4 Q1504.4,224.4 1505.3,227.4" fill="none" stroke="#7a7a7a" stroke-width="1.5"/><path d="M1507.9,224.1 Q1510.0,221.9 1509.5,219.3" fill="none" stroke="#7a7a7a" stroke-width="1.5"/><path d="M1507.9,224.1 Q1510.7,225.3 1511.3,227.9" fill="none" stroke="#7a7a7a" stroke-width="1.5"/><path d="M1488.5,233.1 L1494.5,235.6 L1500.0,239.1 L1504.7,244.3 L1507.6,251.5" fill="none" stroke="#7a7a7a" stroke-width="1.1"/><path d="M1488.5,233.1 Q1492.8,232.0 1494.2,228.3" fill="none" stroke="#7a7a7a" stroke-width="1.5"/><path d="M1488.5,233.1 Q1491.1,236.7 1489.8,240.5" fill="none" stroke="#7a7a7a" stroke-width="1.5"/><path d="M1494.5,235.6 Q1498.4,234.7 1499.7,231.4" fill="none" stroke="#7a7a7a" stroke-width="1.5"/><path d="M1494.5,235.6 Q1496.7,238.9 1495.5,242.2" fill="none" stroke="#7a7a7a" stroke-width="1.5"/><path d="M1500.0,239.1 Q1503.5,238.5 1504.8,235.7" fill="none" stroke="#7a7a7a" stroke-width="1.5"/><path d="M1500.0,239.1 Q1501.9,242.1 1500.6,245.0" fill="none" stroke="#7a7a7a" stroke-width="1.5"/><path d="M1504.7,244.3 Q1507.7,244.1 1509.1,241.8" fill="none" stroke="#7a7a7a" stroke-width="1.5"/><path d="M1504.7,244.3 Q1506.0,247.1 1504.6,249.4" fill="none" stroke="#7a7a7a" stroke-width="1.5"/><path d="M1485.2,237.4 L1488.6,242.9 L1491.2,249.0 L1492.0,255.9 L1490.2,263.5" fill="none" stroke="#7a7a7a" stroke-width="1.1"/><path d="M1485.2,237.4 Q1489.4,239.0 1492.6,236.7" fill="none" stroke="#7a7a7a" stroke-width="1.5"/><path d="M1485.2,237.4 Q1485.2,241.9 1482.0,244.2" fill="none" stroke="#7a7a7a" stroke-width="1.5"/><path d="M1488.6,242.9 Q1492.4,244.4 1495.3,242.4" fill="none" stroke="#7a7a7a" stroke-width="1.5"/><path d="M1488.6,242.9 Q1488.6,246.9 1485.7,248.9" fill="none" stroke="#7a7a7a" stroke-width="1.5"/><path d="M1491.2,249.0 Q1494.4,250.5 1497.1,248.9" fill="none" stroke="#7a7a7a" stroke-width="1.5"/><path d="M1491.2,249.0 Q1490.9,252.5 1488.3,254.1" fill="none" stroke="#7a7a7a" stroke-width="1.5"/><path d="M1492.0,255.9 Q1494.6,257.4 1497.1,256.3" fill="none" stroke="#7a7a7a" stroke-width="1.5"/><path d="M1492.0,255.9 Q1491.5,258.9 1489.1,260.0" fill="none" stroke="#7a7a7a" stroke-width="1.5"/><path d="M1477.7,238.7 L1475.7,244.9 L1472.7,250.7 L1467.9,255.8 L1460.9,259.4" fill="none" stroke="#7a7a7a" stroke-width="1.1"/><path d="M1477.7,238.7 Q1479.2,242.9 1483.0,244.0" fill="none" stroke="#7a7a7a" stroke-width="1.5"/><path d="M1477.7,238.7 Q1474.3,241.6 1470.4,240.6" fill="none" stroke="#7a7a7a" stroke-width="1.5"/><path d="M1475.7,244.9 Q1476.9,248.7 1480.3,249.7" fill="none" stroke="#7a7a7a" stroke-width="1.5"/><path d="M1475.7,244.9 Q1472.6,247.5 1469.2,246.5" fill="none" stroke="#7a7a7a" stroke-width="1.5"/><path d="M1472.7,250.7 Q1473.6,254.2 1476.5,255.2" fill="none" stroke="#7a7a7a" stroke-width="1.5"/><path d="M1472.7,250.7 Q1469.8,252.8 1466.9,251.8" fill="none" stroke="#7a7a7a" stroke-width="1.5"/><path d="M1467.9,255.8 Q1468.4,258.8 1470.8,260.0" fill="none" stroke="#7a7a7a" stroke-width="1.5"/><path d="M1467.9,255.8 Q1465.3,257.4 1462.8,256.2" fill="none" stroke="#7a7a7a" stroke-width="1.5"/><path d="M1472.6,235.2 L1467.1,238.6 L1461.0,241.2 L1454.1,242.0 L1446.5,240.2" fill="none" stroke="#7a7a7a" stroke-width="1.1"/><path d="M1472.6,235.2 Q1471.0,239.4 1473.3,242.6" fill="none" stroke="#7a7a7a" stroke-width="1.5"/><path d="M1472.6,235.2 Q1468.1,235.2 1465.8,232.0" fill="none" stroke="#7a7a7a" stroke-width="1.5"/><path d="M1467.1,238.6 Q1465.6,242.4 1467.6,245.3" fill="none" stroke="#7a7a7a" stroke-width="1.5"/><path d="M1467.1,238.6 Q1463.1,238.6 1461.1,235.7" fill="none" stroke="#7a7a7a" stroke-width="1.5"/><path d="M1461.0,241.2 Q1459.5,244.4 1461.1,247.1" fill="none" stroke="#7a7a7a" stroke-width="1.5"/><path d="M1461.0,241.2 Q1457.5,240.9 1455.9,238.3" fill="none" stroke="#7a7a7a" stroke-width="1.5"/><path d="M1454.1,242.0 Q1452.6,244.6 1453.7,247.1" fill="none" stroke="#7a7a7a" stroke-width="1.5"/><path d="M1454.1,242.0 Q1451.1,241.5 1450.0,239.1" fill="none" stroke="#7a7a7a" stroke-width="1.5"/><path d="M1471.0,229.7 L1464.5,229.2 L1458.1,227.5 L1452.1,224.0 L1447.1,218.0" fill="none" stroke="#7a7a7a" stroke-width="1.1"/><path d="M1471.0,229.7 Q1467.2,232.1 1467.0,236.0" fill="none" stroke="#7a7a7a" stroke-width="1.5"/><path d="M1471.0,229.7 Q1467.4,227.0 1467.5,223.1" fill="none" stroke="#7a7a7a" stroke-width="1.5"/><path d="M1464.5,229.2 Q1461.1,231.2 1460.9,234.8" fill="none" stroke="#7a7a7a" stroke-width="1.5"/><path d="M1464.5,229.2 Q1461.3,226.7 1461.5,223.2" fill="none" stroke="#7a7a7a" stroke-width="1.5"/><path d="M1458.1,227.5 Q1455.0,229.2 1454.6,232.3" fill="none" stroke="#7a7a7a" stroke-width="1.5"/><path d="M1458.1,227.5 Q1455.5,225.2 1455.8,222.1" fill="none" stroke="#7a7a7a" stroke-width="1.5"/><path d="M1452.1,224.0 Q1449.3,225.2 1448.7,227.8" fill="none" stroke="#7a7a7a" stroke-width="1.5"/><path d="M1452.1,224.0 Q1450.0,221.8 1450.6,219.2" fill="none" stroke="#7a7a7a" stroke-width="1.5"/></g>
<g><ellipse cx="1501.4" cy="440.0" rx="7.4" ry="3.6" transform="rotate(-95 1501.4 440.0)" fill="none" stroke="#7a7a7a" stroke-width="1.2"/><ellipse cx="1509.1" cy="445.5" rx="7.4" ry="3.6" transform="rotate(-15 1509.1 445.5)" fill="none" stroke="#7a7a7a" stroke-width="1.2"/><ellipse cx="1502.6" cy="454.8" rx="7.4" ry="3.6" transform="rotate(85 1502.6 454.8)" fill="none" stroke="#7a7a7a" stroke-width="1.2"/><ellipse cx="1494.6" cy="446.8" rx="7.4" ry="3.6" transform="rotate(185 1494.6 446.8)" fill="none" stroke="#7a7a7a" stroke-width="1.2"/><path d="M1496.2,444.2 L1492.1,441.6 L1488.4,438.4 L1485.6,434.1 L1484.3,428.5" fill="none" stroke="#7a7a7a" stroke-width="1.1"/><path d="M1496.2,444.2 Q1492.9,444.5 1491.4,447.0" fill="none" stroke="#7a7a7a" stroke-width="1.5"/><path d="M1496.2,444.2 Q1494.7,441.2 1496.1,438.6" fill="none" stroke="#7a7a7a" stroke-width="1.5"/><path d="M1492.1,441.6 Q1489.1,441.9 1487.8,444.1" fill="none" stroke="#7a7a7a" stroke-width="1.5"/><path d="M1492.1,441.6 Q1490.8,439.0 1492.1,436.7" fill="none" stroke="#7a7a7a" stroke-width="1.5"/><path d="M1488.4,438.4 Q1485.8,438.4 1484.5,440.4" fill="none" stroke="#7a7a7a" stroke-width="1.5"/><path d="M1488.4,438.4 Q1487.4,436.0 1488.7,434.1" fill="none" stroke="#7a7a7a" stroke-width="1.5"/><path d="M1485.6,434.1 Q1483.4,433.9 1482.1,435.4" fill="none" stroke="#7a7a7a" stroke-width="1.5"/><path d="M1485.6,434.1 Q1485.0,431.9 1486.2,430.4" fill="none" stroke="#7a7a7a" stroke-width="1.5"/><path d="M1501.1,440.8 L1500.6,436.0 L1501.0,431.2 L1502.8,426.3 L1506.5,421.9" fill="none" stroke="#7a7a7a" stroke-width="1.1"/><path d="M1501.1,440.8 Q1498.8,438.3 1495.9,438.7" fill="none" stroke="#7a7a7a" stroke-width="1.5"/><path d="M1501.1,440.8 Q1502.5,437.8 1505.4,437.4" fill="none" stroke="#7a7a7a" stroke-width="1.5"/><path d="M1500.6,436.0 Q1498.7,433.8 1496.1,434.1" fill="none" stroke="#7a7a7a" stroke-width="1.5"/><path d="M1500.6,436.0 Q1502.0,433.4 1504.6,433.0" fill="none" stroke="#7a7a7a" stroke-width="1.5"/><path d="M1501.0,431.2 Q1499.4,429.1 1497.1,429.2" fill="none" stroke="#7a7a7a" stroke-width="1.5"/><path d="M1501.0,431.2 Q1502.3,428.9 1504.6,428.7" fill="none" stroke="#7a7a7a" stroke-width="1.5"/><path d="M1502.8,426.3 Q1501.6,424.4 1499.6,424.3" fill="none" stroke="#7a7a7a" stroke-width="1.5"/><path d="M1502.8,426.3 Q1504.1,424.5 1506.1,424.6" fill="none" stroke="#7a7a7a" stroke-width="1.5"/><path d="M1505.3,441.6 L1507.9,437.6 L1511.2,434.0 L1515.6,431.3 L1521.2,430.1" fill="none" stroke="#7a7a7a" stroke-width="1.1"/><path d="M1505.3,441.6 Q1505.1,438.3 1502.6,436.8" fill="none" stroke="#7a7a7a" stroke-width="1.5"/><path d="M1505.3,441.6 Q1508.3,440.2 1510.9,441.6" fill="none" stroke="#7a7a7a" stroke-width="1.5"/><path d="M1507.9,437.6 Q1507.8,434.6 1505.5,433.2" fill="none" stroke="#7a7a7a" stroke-width="1.5"/><path d="M1507.9,437.6 Q1510.6,436.3 1512.9,437.7" fill="none" stroke="#7a7a7a" stroke-width="1.5"/><path d="M1511.2,434.0 Q1511.2,431.4 1509.3,430.0" fill="none" stroke="#7a7a7a" stroke-width="1.5"/><path d="M1511.2,434.0 Q1513.7,433.0 1515.6,434.3" fill="none" stroke="#7a7a7a" stroke-width="1.5"/><path d="M1515.6,431.3 Q1515.8,429.0 1514.3,427.7" fill="none" stroke="#7a7a7a" stroke-width="1.5"/><path d="M1515.6,431.3 Q1517.8,430.7 1519.3,431.9" fill="none" stroke="#7a7a7a" stroke-width="1.5"/><path d="M1508.2,444.9 L1512.7,443.3 L1517.5,442.5 L1522.6,443.1 L1527.8,445.6" fill="none" stroke="#7a7a7a" stroke-width="1.1"/><path d="M1508.2,444.9 Q1510.0,442.1 1508.9,439.4" fill="none" stroke="#7a7a7a" stroke-width="1.5"/><path d="M1508.2,444.9 Q1511.4,445.6 1512.5,448.3" fill="none" stroke="#7a7a7a" stroke-width="1.5"/><path d="M1512.7,443.3 Q1514.4,440.9 1513.5,438.4" fill="none" stroke="#7a7a7a" stroke-width="1.5"/><path d="M1512.7,443.3 Q1515.6,444.0 1516.6,446.4" fill="none" stroke="#7a7a7a" stroke-width="1.5"/><path d="M1517.5,442.5 Q1519.1,440.4 1518.5,438.2" fill="none" stroke="#7a7a7a" stroke-width="1.5"/><path d="M1517.5,442.5 Q1520.0,443.3 1520.7,445.5" fill="none" stroke="#7a7a7a" stroke-width="1.5"/><path d="M1522.6,443.1 Q1524.2,441.4 1523.8,439.5" fill="none" stroke="#7a7a7a" stroke-width="1.5"/><path d="M1522.6,443.1 Q1524.7,443.9 1525.2,445.9" fill="none" stroke="#7a7a7a" stroke-width="1.5"/><path d="M1508.3,449.7 L1512.7,451.5 L1516.8,454.2 L1520.2,458.0 L1522.4,463.3" fill="none" stroke="#7a7a7a" stroke-width="1.1"/><path d="M1508.3,449.7 Q1511.5,448.9 1512.5,446.1" fill="none" stroke="#7a7a7a" stroke-width="1.5"/><path d="M1508.3,449.7 Q1510.2,452.4 1509.2,455.1" fill="none" stroke="#7a7a7a" stroke-width="1.5"/><path d="M1512.7,451.5 Q1515.6,450.9 1516.6,448.4" fill="none" stroke="#7a7a7a" stroke-width="1.5"/><path d="M1512.7,451.5 Q1514.4,454.0 1513.5,456.4" fill="none" stroke="#7a7a7a" stroke-width="1.5"/><path d="M1516.8,454.2 Q1519.4,453.7 1520.4,451.6" fill="none" stroke="#7a7a7a" stroke-width="1.5"/><path d="M1516.8,454.2 Q1518.2,456.4 1517.2,458.5" fill="none" stroke="#7a7a7a" stroke-width="1.5"/><path d="M1520.2,458.0 Q1522.5,457.8 1523.5,456.1" fill="none" stroke="#7a7a7a" stroke-width="1.5"/><path d="M1520.2,458.0 Q1521.2,460.0 1520.2,461.8" fill="none" stroke="#7a7a7a" stroke-width="1.5"/><path d="M1505.8,452.9 L1508.4,456.9 L1510.3,461.4 L1510.9,466.5 L1509.6,472.2" fill="none" stroke="#7a7a7a" stroke-width="1.1"/><path d="M1505.8,452.9 Q1508.9,454.0 1511.3,452.4" fill="none" stroke="#7a7a7a" stroke-width="1.5"/><path d="M1505.8,452.9 Q1505.9,456.2 1503.5,457.9" fill="none" stroke="#7a7a7a" stroke-width="1.5"/><path d="M1508.4,456.9 Q1511.2,458.0 1513.3,456.6" fill="none" stroke="#7a7a7a" stroke-width="1.5"/><path d="M1508.4,456.9 Q1508.4,459.9 1506.2,461.4" fill="none" stroke="#7a7a7a" stroke-width="1.5"/><path d="M1510.3,461.4 Q1512.6,462.5 1514.6,461.4" fill="none" stroke="#7a7a7a" stroke-width="1.5"/><path d="M1510.3,461.4 Q1510.1,464.0 1508.1,465.2" fill="none" stroke="#7a7a7a" stroke-width="1.5"/><path d="M1510.9,466.5 Q1512.8,467.7 1514.6,466.9" fill="none" stroke="#7a7a7a" stroke-width="1.5"/><path d="M1510.9,466.5 Q1510.5,468.8 1508.7,469.6" fill="none" stroke="#7a7a7a" stroke-width="1.5"/><path d="M1500.3,453.8 L1498.8,458.4 L1496.6,462.7 L1493.0,466.5 L1487.9,469.1" fill="none" stroke="#7a7a7a" stroke-width="1.1"/><path d="M1500.3,453.8 Q1501.4,457.0 1504.2,457.8" fill="none" stroke="#7a7a7a" stroke-width="1.5"/><path d="M1500.3,453.8 Q1497.8,456.0 1494.9,455.3" fill="none" stroke="#7a7a7a" stroke-width="1.5"/><path d="M1498.8,458.4 Q1499.7,461.2 1502.3,462.0" fill="none" stroke="#7a7a7a" stroke-width="1.5"/><path d="M1498.8,458.4 Q1496.5,460.3 1494.0,459.6" fill="none" stroke="#7a7a7a" stroke-width="1.5"/><path d="M1496.6,462.7 Q1497.2,465.3 1499.4,466.1" fill="none" stroke="#7a7a7a" stroke-width="1.5"/><path d="M1496.6,462.7 Q1494.5,464.3 1492.3,463.5" fill="none" stroke="#7a7a7a" stroke-width="1.5"/><path d="M1493.0,466.5 Q1493.4,468.7 1495.2,469.6" fill="none" stroke="#7a7a7a" stroke-width="1.5"/><path d="M1493.0,466.5 Q1491.1,467.6 1489.3,466.8" fill="none" stroke="#7a7a7a" stroke-width="1.5"/><path d="M1496.5,451.2 L1492.5,453.8 L1488.0,455.7 L1482.9,456.3 L1477.2,455.0" fill="none" stroke="#7a7a7a" stroke-width="1.1"/><path d="M1496.5,451.2 Q1495.4,454.3 1497.0,456.7" fill="none" stroke="#7a7a7a" stroke-width="1.5"/><path d="M1496.5,451.2 Q1493.2,451.3 1491.5,448.9" fill="none" stroke="#7a7a7a" stroke-width="1.5"/><path d="M1492.5,453.8 Q1491.4,456.6 1492.8,458.7" fill="none" stroke="#7a7a7a" stroke-width="1.5"/><path d="M1492.5,453.8 Q1489.5,453.8 1488.0,451.6" fill="none" stroke="#7a7a7a" stroke-width="1.5"/><path d="M1488.0,455.7 Q1486.9,458.0 1488.0,460.0" fill="none" stroke="#7a7a7a" stroke-width="1.5"/><path d="M1488.0,455.7 Q1485.4,455.5 1484.2,453.5" fill="none" stroke="#7a7a7a" stroke-width="1.5"/><path d="M1482.9,456.3 Q1481.7,458.2 1482.5,460.0" fill="none" stroke="#7a7a7a" stroke-width="1.5"/><path d="M1482.9,456.3 Q1480.6,455.9 1479.8,454.1" fill="none" stroke="#7a7a7a" stroke-width="1.5"/><path d="M1495.3,447.2 L1490.5,446.8 L1485.8,445.6 L1481.4,443.0 L1477.7,438.5" fill="none" stroke="#7a7a7a" stroke-width="1.1"/><path d="M1495.3,447.2 Q1492.5,448.9 1492.4,451.9" fill="none" stroke="#7a7a7a" stroke-width="1.5"/><path d="M1495.3,447.2 Q1492.7,445.2 1492.7,442.3" fill="none" stroke="#7a7a7a" stroke-width="1.5"/><path d="M1490.5,446.8 Q1488.0,448.3 1487.8,450.9" fill="none" stroke="#7a7a7a" stroke-width="1.5"/><path d="M1490.5,446.8 Q1488.2,445.0 1488.3,442.4" fill="none" stroke="#7a7a7a" stroke-width="1.5"/><path d="M1485.8,445.6 Q1483.5,446.8 1483.2,449.1" fill="none" stroke="#7a7a7a" stroke-width="1.5"/><path d="M1485.8,445.6 Q1483.8,443.8 1484.1,441.6" fill="none" stroke="#7a7a7a" stroke-width="1.5"/><path d="M1481.4,443.0 Q1479.3,443.8 1478.8,445.8" fill="none" stroke="#7a7a7a" stroke-width="1.5"/><path d="M1481.4,443.0 Q1479.8,441.3 1480.2,439.4" fill="none" stroke="#7a7a7a" stroke-width="1.5"/></g>
<path d="M1720.5,933.0 A55.3,55.3 0 0,1 1643.0,1011.8" fill="none" stroke="#767676" stroke-width="1.4"/>
<path d="M1717.8,935.9 A51.3,51.3 0 0,1 1645.9,1009.0" fill="none" stroke="#767676" stroke-width="1.4"/>
<path d="M1717.6,936.1 A51,51 0 0,0 1646.1,1008.8" fill="none" stroke="#767676" stroke-width="7"/>
<path d="M1699.3,956.9 A23.4,23.4 0 0,0 1666.3,989.9" fill="none" stroke="#767676" stroke-width="1.3"/>
<circle cx="1682.8" cy="973.4" r="16.4" fill="none" stroke="#767676" stroke-width="1.3" />
<text x="1659.2" y="948.7" transform="rotate(135 1659.2 948.7)" font-family="Liberation Sans" font-size="8" fill="#767676" text-anchor="middle" dominant-baseline="middle">K</text>
<text x="1707.5" y="947.3" transform="rotate(-135 1707.5 947.3)" font-family="Liberation Sans" font-size="8" fill="#767676" text-anchor="middle" dominant-baseline="middle">É</text>
<text x="1658.3" y="1000.8" transform="rotate(45 1658.3 1000.8)" font-family="Liberation Sans" font-size="8" fill="#767676" text-anchor="middle" dominant-baseline="middle">D</text>
<text x="1708.9" y="1001.7" transform="rotate(-45 1708.9 1001.7)" font-family="Liberation Sans" font-size="8" fill="#767676" text-anchor="middle" dominant-baseline="middle">NY</text>
<line x1="1699.2" y1="973.4" x2="1666.4" y2="973.4" stroke="#767676" stroke-width="1.1" />
<line x1="1694.4" y1="985.0" x2="1671.2" y2="961.8" stroke="#767676" stroke-width="1.1" />
<line x1="1682.8" y1="989.8" x2="1682.8" y2="957.0" stroke="#767676" stroke-width="1.1" />
<line x1="1671.2" y1="985.0" x2="1694.4" y2="961.8" stroke="#767676" stroke-width="1.1" />
<path d="M1696.9,959.3 A20,20 0 0,1 1668.7,987.5" fill="none" stroke="#767676" stroke-width="7"/>
<line x1="1682.8" y1="907" x2="1682.8" y2="919" stroke="#767676" stroke-width="1.4" />
<line x1="1684.3" y1="1028" x2="1684.3" y2="1040" stroke="#767676" stroke-width="1.4" />
<line x1="1616" y1="975.5" x2="1628" y2="975.5" stroke="#767676" stroke-width="1.4" />
<line x1="1738" y1="972.5" x2="1750" y2="972.5" stroke="#767676" stroke-width="1.4" />
<polygon points="1674,932.8 1690,932.8 1682,926.6" fill="#767676"/>
<polygon points="1676.6,1014 1692,1014 1684.4,1022.7" fill="#767676"/>
<polygon points="1633.6,974.2 1642.2,967.2 1642.2,982" fill="#767676"/>
<polygon points="1732,973.4 1724.2,966.4 1724.2,980.5" fill="#767676"/>
<polygon points="1706,939 1718.75,939 1718.75,950" fill="#767676"/>
<polygon points="1647,940.6 1658.6,940.6 1647,951" fill="#767676"/>
<polygon points="1649,998 1649,1009 1660,1009" fill="#767676"/>
<polygon points="1719.5,997.6 1719.5,1008 1708,1008" fill="#767676"/>
<line x1="1645" y1="935" x2="1628" y2="920" stroke="#767676" stroke-width="1.3" />
<polygon points="1625.8,919.5 1640,923 1630,932" fill="#767676"/>
<line x1="1645" y1="1011" x2="1631" y2="1029" stroke="#767676" stroke-width="1.3" />
<polygon points="1629,1031 1632,1017 1642,1026" fill="#767676"/>
<line x1="1722" y1="1013" x2="1737" y2="1026" stroke="#767676" stroke-width="1.3" />
<polygon points="1739,1027.5 1725,1023 1734,1013" fill="#767676"/>
<line x1="1720" y1="935" x2="1729" y2="926" stroke="#767676" stroke-width="1.3" />
<line x1="1754" y1="902" x2="1765" y2="891" stroke="#767676" stroke-width="1.3" />
<polygon points="1784,868 1758.6,882 1772.7,894.5" fill="#767676"/>
<path d="M1726.4,918 L1736.25,926.9 L1751.96,911.9 L1741.2,903.4 M1744.1,919.4 L1734.8,911.2" fill="none" stroke="#000" stroke-width="3.6" />
<line x1="1748.9" y1="906" x2="1750.8" y2="901.6" stroke="#000" stroke-width="2.6" />
<path d="M387,160 H1569 V273 H1534.5 V195.5 H1011 V348 H977 V195.5 H422.5 V317.5 H457.5 V326 H422.5 V839 H447 V886.5 H387 Z" fill="#9a9a9a" stroke="#000" stroke-width="4" stroke-linejoin="miter"/>
<path d="M583.5,195.5 H600.5 V249 H583.5 Z" fill="#9a9a9a" stroke="#000" stroke-width="4" stroke-linejoin="miter"/>
<path d="M535,317.5 H600.5 V700.5 H502 V683.5 H583.5 V326 H535 Z" fill="#9a9a9a" stroke="#000" stroke-width="4" stroke-linejoin="miter"/>
<path d="M139,839 H252 V804 H387 V839 H286 V887.5 H174 V1081 H266 V1115.5 H139 Z" fill="#9a9a9a" stroke="#000" stroke-width="4" stroke-linejoin="miter"/>
<path d="M342,1081 H447 V1115.5 H342 Z" fill="#9a9a9a" stroke="#000" stroke-width="4" stroke-linejoin="miter"/>
<path d="M618.2,886.5 H627 V1081 H635.8 V1115.5 H606 V1081 H618.2 Z" fill="#9a9a9a" stroke="#000" stroke-width="4" stroke-linejoin="miter"/>
<path d="M535.5,839 H629.4 V886.5 H535.5 Z" fill="#9a9a9a" stroke="#000" stroke-width="4" stroke-linejoin="miter"/>
<path d="M722.7,839 H853.5 V847.5 H722.7 Z" fill="#9a9a9a" stroke="#000" stroke-width="4" stroke-linejoin="miter"/>
<path d="M714.4,886.5 H722.7 V1081 H897.7 V1114.5 H701.8 V1081 H714.4 Z" fill="#9a9a9a" stroke="#000" stroke-width="4" stroke-linejoin="miter"/>
<path d="M695,839 H722.7 V886.5 H695 Z" fill="#9a9a9a" stroke="#000" stroke-width="4" stroke-linejoin="miter"/>
<path d="M976.3,740.5 H1011 V1080.8 H1534.7 V999 H1569.3 V1114.8 H964 V1081 H976.3 V846.7 H919.5 V839.2 H976.3 Z" fill="#9a9a9a" stroke="#000" stroke-width="4" stroke-linejoin="miter"/>
<path d="M1534.7,400.3 H1568.8 V434.6 H1534.7 Z" fill="#9a9a9a" stroke="#000" stroke-width="4" stroke-linejoin="miter"/>
<path d="M1535,614.3 H1568.6 V710.7 H1535 Z" fill="#9a9a9a" stroke="#000" stroke-width="4" stroke-linejoin="miter"/>
<line x1="1011" y1="400" x2="1534.7" y2="400" stroke="#000" stroke-width="4" stroke-linecap="square"/>
<line x1="976.3" y1="413.2" x2="1534.7" y2="413.2" stroke="#000" stroke-width="4" stroke-linecap="square"/>
<line x1="977" y1="348" x2="977" y2="413.2" stroke="#000" stroke-width="4" stroke-linecap="square"/>
<line x1="1011" y1="195.5" x2="1011" y2="400" stroke="#000" stroke-width="4" stroke-linecap="square"/>
<line x1="976.3" y1="698.9" x2="1535" y2="698.9" stroke="#000" stroke-width="4" stroke-linecap="square"/>
<line x1="1011" y1="712" x2="1535" y2="712" stroke="#000" stroke-width="4" stroke-linecap="square"/>
<line x1="976.3" y1="698.9" x2="976.3" y2="740.5" stroke="#000" stroke-width="4" stroke-linecap="square"/>
<line x1="1011" y1="712" x2="1011" y2="740.5" stroke="#000" stroke-width="4" stroke-linecap="square"/>
<text x="808" y="105.4" font-family="Liberation Serif" font-size="27.5" font-weight="normal" fill="#6e6e6e" stroke="#6e6e6e" stroke-width="0.9" textLength="518" lengthAdjust="spacingAndGlyphs" >A TERVEZETT ALAPRAJZ TÁJÉKOZTATÓ JELLEGŰ</text>
<text x="459.5" y="259.6" font-family="Liberation Serif" font-size="36" font-weight="bold" fill="#000" stroke="#000" stroke-width="0.2" textLength="75" lengthAdjust="spacingAndGlyphs" >Kamra</text>
<text x="1188.7" y="317.2" font-family="Liberation Serif" font-size="36" font-weight="bold" fill="#000" stroke="#000" stroke-width="0.2" textLength="102" lengthAdjust="spacingAndGlyphs" >Előszoba</text>
<text x="425.8" y="516.8" font-family="Liberation Serif" font-size="34" font-weight="bold" fill="#000" stroke="#000" stroke-width="0.2" textLength="111" lengthAdjust="spacingAndGlyphs" >Háztartási</text>
<text x="435.7" y="556.3" font-family="Liberation Serif" font-size="34" font-weight="bold" fill="#000" stroke="#000" stroke-width="0.2" textLength="92.5" lengthAdjust="spacingAndGlyphs" >helyiség</text>
<text x="676.2" y="511.3" font-family="Liberation Serif" font-size="36" font-weight="bold" fill="#000" stroke="#000" stroke-width="0.2" textLength="181.4" lengthAdjust="spacingAndGlyphs" >Étkező -Konyha</text>
<text x="1283.5" y="493.5" font-family="Liberation Serif" font-size="36" font-weight="bold" fill="#000" stroke="#000" stroke-width="0.2" textLength="88" lengthAdjust="spacingAndGlyphs" >Nappali</text>
<text x="580.75" y="762.4" font-family="Liberation Serif" font-size="35.5" font-weight="bold" fill="#000" stroke="#000" stroke-width="0.2" textLength="119.6" lengthAdjust="spacingAndGlyphs" >Közlekedő</text>
<text x="331" y="988.5" font-family="Liberation Serif" font-size="36" font-weight="bold" fill="#000" stroke="#000" stroke-width="0.2" textLength="66.7" lengthAdjust="spacingAndGlyphs" >Szoba</text>
<text x="1232.4" y="865.5" font-family="Liberation Serif" font-size="36" font-weight="bold" fill="#000" stroke="#000" stroke-width="0.2" textLength="66.7" lengthAdjust="spacingAndGlyphs" >Szoba</text>
<text x="647.6" y="993" font-family="Liberation Serif" font-size="36" font-weight="bold" fill="#000" stroke="#000" stroke-width="0.2" textLength="37" lengthAdjust="spacingAndGlyphs" >Wc</text>
<text x="760.4" y="968.7" font-family="Liberation Serif" font-size="36" font-weight="bold" fill="#000" stroke="#000" stroke-width="0.2" textLength="65.4" lengthAdjust="spacingAndGlyphs" >Fürdő</text>
<text x="141.5" y="578" font-family="Liberation Serif" font-size="35" font-weight="normal" fill="#6e6e6e" stroke="#6e6e6e" stroke-width="1.0" textLength="231" lengthAdjust="spacingAndGlyphs" >Szomszédos ingatlan</text>
<text x="1235.3" y="1159.7" font-family="Liberation Serif" font-size="35" font-weight="normal" fill="#777" stroke="#777" stroke-width="1.0" textLength="202.7" lengthAdjust="spacingAndGlyphs" >Szárazkapu <tspan fill="#e2e2e2" stroke="#e2e2e2">bej</tspan>áró</text>
<g transform="translate(1637.5,687) rotate(-90)"><text x="0" y="0" font-family="Liberation Serif" font-size="35" font-weight="bold" fill="#000" textLength="113" lengthAdjust="spacingAndGlyphs">Utca front</text></g></svg>
</body></html>
